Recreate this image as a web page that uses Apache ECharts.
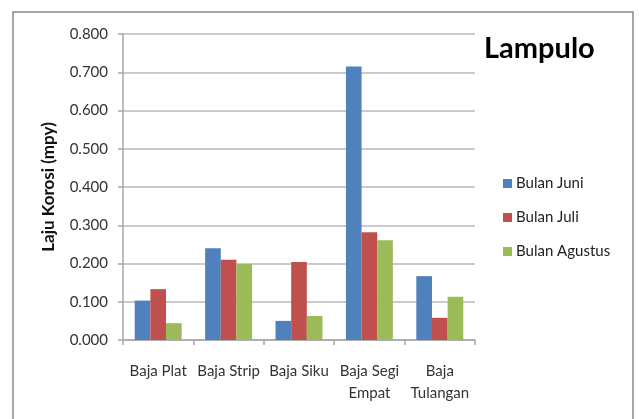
<!DOCTYPE html>
<html>
<head>
<meta charset="utf-8">
<script src="https://cdn.jsdelivr.net/npm/echarts@6/dist/echarts.min.js"></script>
<style>
  html, body { margin: 0; padding: 0; background: #ffffff; }
  #chart { width: 639px; height: 419px; }
</style>
</head>
<body>
<div id="chart"></div>
<script>
// Corrosion rate per steel type, by month
const categories = ['Baja Plat', 'Baja Strip', 'Baja Siku', 'Baja Segi\nEmpat', 'Baja\nTulangan'];
const seriesNames = ['Bulan Juni', 'Bulan Juli', 'Bulan Agustus'];
const juni = [0.103, 0.240, 0.050, 0.715, 0.167];
const juli = [0.133, 0.210, 0.204, 0.282, 0.058];
const agustus = [0.044, 0.199, 0.063, 0.261, 0.113];
const colors = ['#4F81BD', '#C0504D', '#9BBB59'];

const FONT = 'Lato, "Open Sans", sans-serif';
const chart = echarts.init(document.getElementById('chart'), null, { renderer: 'canvas' });

const seriesValues = [juni, juli, agustus];

chart.setOption({
  backgroundColor: '#ffffff',
  animation: false,
  color: colors,
  title: {
    text: 'Lampulo',
    left: 479,
    top: 29,
    textStyle: { fontFamily: FONT, fontSize: 29, fontWeight: 'bold', color: '#000000' }
  },
  legend: {
    orient: 'vertical',
    left: 498,
    top: 171,
    itemWidth: 9,
    itemHeight: 9,
    itemGap: 19,
    icon: 'rect',
    textStyle: { fontFamily: FONT, fontSize: 15, color: '#222222', padding: [0, 0, 0, -1] },
    data: seriesNames
  },
  graphic: [{
    type: 'rect',
    shape: { x: 13, y: 12, width: 620, height: 430 },
    style: { fill: 'none', stroke: '#8a8a8a', lineWidth: 1.5 },
    silent: true
  }],
  grid: { left: 123, top: 34, width: 352, height: 306 },
  xAxis: {
    type: 'category',
    data: categories,
    axisLine: { lineStyle: { color: '#a6a6a6', width: 1.5 } },
    axisTick: { show: true, length: 5, lineStyle: { color: '#a6a6a6', width: 1.5 } },
    axisLabel: {
      fontFamily: FONT, fontSize: 15, color: '#333333',
      margin: 20, lineHeight: 22, interval: 0
    }
  },
  yAxis: {
    type: 'value',
    min: 0,
    max: 0.8,
    interval: 0.1,
    name: 'Laju Korosi (mpy)',
    nameLocation: 'middle',
    nameGap: 66,
    nameTextStyle: { fontFamily: FONT, fontSize: 17, fontWeight: 'bold', color: '#111111' },
    axisLine: { show: true, lineStyle: { color: '#a6a6a6', width: 1.5 } },
    axisTick: { show: true, length: 5, lineStyle: { color: '#a6a6a6', width: 1.5 } },
    splitLine: { lineStyle: { color: '#b8b8b8', width: 1.5 } },
    axisLabel: {
      fontFamily: FONT, fontSize: 15, color: '#333333', margin: 15,
      formatter: v => v.toFixed(3)
    }
  },
  series: seriesNames.map((name, i) => ({
    name,
    type: 'bar',
    data: seriesValues[i],
    barGap: '0%',
    barCategoryGap: '33.3%',
    itemStyle: { color: colors[i] }
  }))
});
</script>
</body>
</html>
